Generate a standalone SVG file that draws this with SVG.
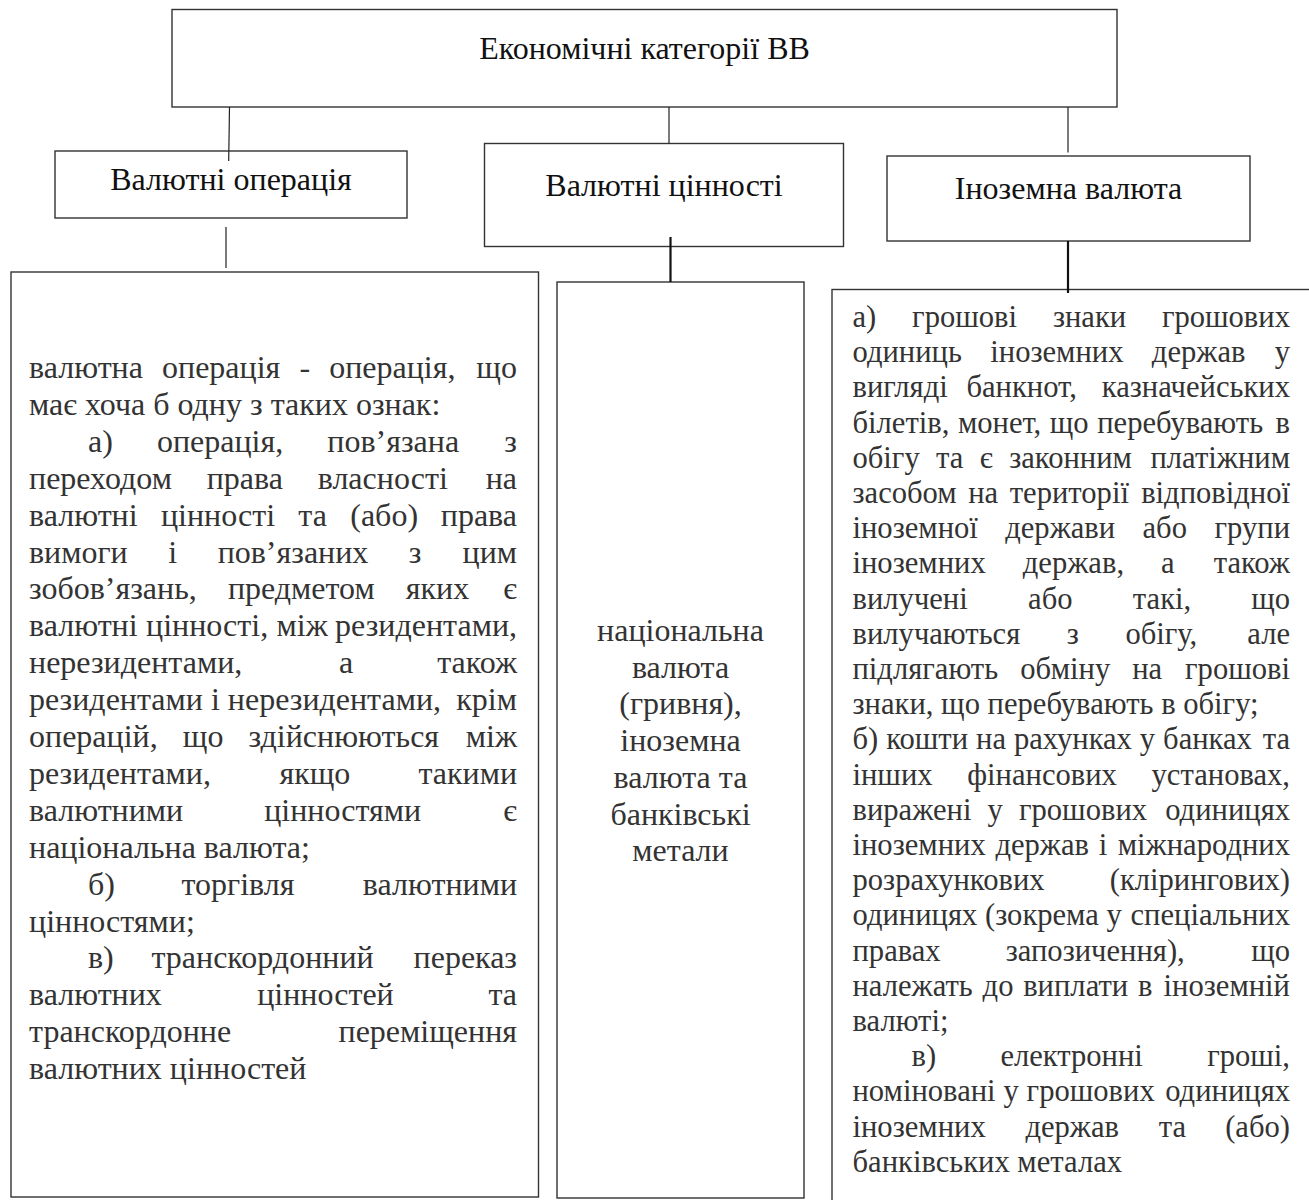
<svg xmlns="http://www.w3.org/2000/svg" width="1309" height="1200" viewBox="0 0 1309 1200">
<style>
.box{fill:#fff;stroke:#333;stroke-width:1.4}
.ln{stroke:#222;stroke-width:1.2;fill:none}
.lnb{stroke:#111;stroke-width:2.2;fill:none}
.hd{font-family:"Liberation Serif","Times New Roman",serif;font-size:32px;fill:#111;text-anchor:middle}
.tl{font-family:"Liberation Serif","Times New Roman",serif;font-size:32px;fill:#333}
.tr{font-family:"Liberation Serif","Times New Roman",serif;font-size:30.6px;fill:#333}
.tm{font-family:"Liberation Serif","Times New Roman",serif;font-size:32px;fill:#333;text-anchor:middle}
.e{text-anchor:end}
</style>
<rect width="1309" height="1200" fill="#fff"/>
<g id="top">
<rect class="box" x="172" y="9.5" width="945" height="97.5"/>
<text class="hd" x="644.5" y="59">Економічні категорії ВВ</text>
</g>
<g id="ops">
<rect class="box" x="55" y="151" width="352" height="67"/>
<text class="hd" x="231" y="190">Валютні операція</text>
</g>
<g id="values">
<rect class="box" x="484.5" y="143.5" width="359" height="103"/>
<text class="hd" x="664" y="196">Валютні цінності</text>
</g>
<g id="foreign">
<rect class="box" x="887" y="156" width="363" height="85"/>
<text class="hd" x="1068.5" y="199">Іноземна валюта</text>
</g>
<g id="ops-def">
<rect class="box" x="11" y="272" width="527.5" height="925"/>
<text class="tl" y="378"><tspan x="29" word-spacing="11.1">валютна операція - операція,</tspan><tspan class="e" x="517">що</tspan></text>
<text class="tl" x="29" y="414.9">має хоча б одну з таких ознак:</text>
<text class="tl" y="451.8"><tspan x="88" word-spacing="36.1">а) операція, пов’язана</tspan><tspan class="e" x="517">з</tspan></text>
<text class="tl" y="488.7"><tspan x="29" word-spacing="26.8">переходом права власності</tspan><tspan class="e" x="517">на</tspan></text>
<text class="tl" y="525.6"><tspan x="29" word-spacing="15.3">валютні цінності та (або)</tspan><tspan class="e" x="517">права</tspan></text>
<text class="tl" y="562.5"><tspan x="29" word-spacing="32.5">вимоги і пов’язаних з</tspan><tspan class="e" x="517">цим</tspan></text>
<text class="tl" y="599.4"><tspan x="29" word-spacing="23.1">зобов’язань, предметом яких</tspan><tspan class="e" x="517">є</tspan></text>
<text class="tl" y="636.3"><tspan x="29" word-spacing="0.4">валютні цінності, між</tspan><tspan class="e" x="517">резидентами,</tspan></text>
<text class="tl" y="673.2"><tspan x="29" word-spacing="88.8">нерезидентами, а</tspan><tspan class="e" x="517">також</tspan></text>
<text class="tl" y="710.1"><tspan x="29" word-spacing="0">резидентами і нерезидентами,</tspan><tspan class="e" x="517">крім</tspan></text>
<text class="tl" y="747"><tspan x="29" word-spacing="17.1">операцій, що здійснюються</tspan><tspan class="e" x="517">між</tspan></text>
<text class="tl" y="783.9"><tspan x="29" word-spacing="60.5">резидентами, якщо</tspan><tspan class="e" x="517">такими</tspan></text>
<text class="tl" y="820.8"><tspan x="29" word-spacing="72.9">валютними цінностями</tspan><tspan class="e" x="517">є</tspan></text>
<text class="tl" x="29" y="857.7">національна валюта;</text>
<text class="tl" y="894.6"><tspan x="88" word-spacing="58.6">б) торгівля</tspan><tspan class="e" x="517">валютними</tspan></text>
<text class="tl" x="29" y="931.5">цінностями;</text>
<text class="tl" y="968.4"><tspan x="88" word-spacing="29.7">в) транскордонний</tspan><tspan class="e" x="517">переказ</tspan></text>
<text class="tl" y="1005.3"><tspan x="29" word-spacing="87.3">валютних цінностей</tspan><tspan class="e" x="517">та</tspan></text>
<text class="tl" y="1042.2"><tspan x="29">транскордонне</tspan><tspan class="e" x="517">переміщення</tspan></text>
<text class="tl" x="29" y="1079.1">валютних цінностей</text>
</g>
<g id="values-def">
<rect class="box" x="557" y="282" width="247" height="916"/>
<text class="tm" x="680.5" y="641">національна</text>
<text class="tm" x="680.5" y="677.7">валюта</text>
<text class="tm" x="680.5" y="714.4">(гривня),</text>
<text class="tm" x="680.5" y="751.1">іноземна</text>
<text class="tm" x="680.5" y="787.8">валюта та</text>
<text class="tm" x="680.5" y="824.5">банківські</text>
<text class="tm" x="680.5" y="861.2">метали</text>
</g>
<g id="foreign-def">
<rect class="box" x="832" y="289.5" width="500" height="950"/>
<text class="tr" y="327"><tspan x="852.5" word-spacing="28.2">а) грошові знаки</tspan><tspan class="e" x="1290">грошових</tspan></text>
<text class="tr" y="362.2"><tspan x="852.5" word-spacing="20.7">одиниць іноземних держав</tspan><tspan class="e" x="1290">у</tspan></text>
<text class="tr" y="397.4"><tspan x="852.5" word-spacing="11.1">вигляді банкнот,</tspan><tspan class="e" x="1290">казначейських</tspan></text>
<text class="tr" y="432.6"><tspan x="852.5" word-spacing="0.9">білетів, монет, що перебувають</tspan><tspan class="e" x="1290">в</tspan></text>
<text class="tr" y="467.8"><tspan x="852.5" word-spacing="8.7">обігу та є законним</tspan><tspan class="e" x="1290">платіжним</tspan></text>
<text class="tr" y="503"><tspan x="852.5" word-spacing="3.9">засобом на території</tspan><tspan class="e" x="1290">відповідної</tspan></text>
<text class="tr" y="538.2"><tspan x="852.5" word-spacing="19.7">іноземної держави або</tspan><tspan class="e" x="1290">групи</tspan></text>
<text class="tr" y="573.4"><tspan x="852.5" word-spacing="29.4">іноземних держав, а</tspan><tspan class="e" x="1290">також</tspan></text>
<text class="tr" y="608.6"><tspan x="852.5" word-spacing="52.7">вилучені або такі,</tspan><tspan class="e" x="1290">що</tspan></text>
<text class="tr" y="643.8"><tspan x="852.5" word-spacing="38.9">вилучаються з обігу,</tspan><tspan class="e" x="1290">але</tspan></text>
<text class="tr" y="679"><tspan x="852.5" word-spacing="14.3">підлягають обміну на</tspan><tspan class="e" x="1290">грошові</tspan></text>
<text class="tr" x="852.5" y="714.2">знаки, що перебувають в обігу;</text>
<text class="tr" y="749.4"><tspan x="852.5" word-spacing="0.3">б) кошти на рахунках у банках</tspan><tspan class="e" x="1290">та</tspan></text>
<text class="tr" y="784.6"><tspan x="852.5" word-spacing="27">інших фінансових</tspan><tspan class="e" x="1290">установах,</tspan></text>
<text class="tr" y="819.8"><tspan x="852.5" word-spacing="8.5">виражені у грошових</tspan><tspan class="e" x="1290">одиницях</tspan></text>
<text class="tr" y="855"><tspan x="852.5" word-spacing="2">іноземних держав і</tspan><tspan class="e" x="1290">міжнародних</tspan></text>
<text class="tr" y="890.2"><tspan x="852.5">розрахункових</tspan><tspan class="e" x="1290">(клірингових)</tspan></text>
<text class="tr" y="925.4"><tspan x="852.5" word-spacing="0">одиницях (зокрема у</tspan><tspan class="e" x="1290">спеціальних</tspan></text>
<text class="tr" y="960.6"><tspan x="852.5" word-spacing="57.4">правах запозичення),</tspan><tspan class="e" x="1290">що</tspan></text>
<text class="tr" y="995.8"><tspan x="852.5" word-spacing="2.1">належать до виплати в</tspan><tspan class="e" x="1290">іноземній</tspan></text>
<text class="tr" x="852.5" y="1031">валюті;</text>
<text class="tr" y="1066.2"><tspan x="911.5" word-spacing="56.6">в) електронні</tspan><tspan class="e" x="1290">гроші,</tspan></text>
<text class="tr" y="1101.4"><tspan x="852.5" word-spacing="0.2">номіновані у грошових</tspan><tspan class="e" x="1290">одиницях</tspan></text>
<text class="tr" y="1136.6"><tspan x="852.5" word-spacing="32">іноземних держав та</tspan><tspan class="e" x="1290">(або)</tspan></text>
<text class="tr" x="852.5" y="1171.8">банківських металах</text>
</g>
<g id="connectors">
<line class="ln" x1="229.5" y1="107" x2="228.7" y2="161"/>
<line class="ln" x1="669" y1="107" x2="669" y2="143.5"/>
<line class="ln" x1="1068" y1="107" x2="1068" y2="152.5"/>
<line class="ln" x1="226" y1="227" x2="226" y2="268"/>
<line class="lnb" x1="670.5" y1="237" x2="670.5" y2="282"/>
<line class="lnb" x1="1068" y1="241" x2="1068" y2="293"/>
</g>
</svg>
